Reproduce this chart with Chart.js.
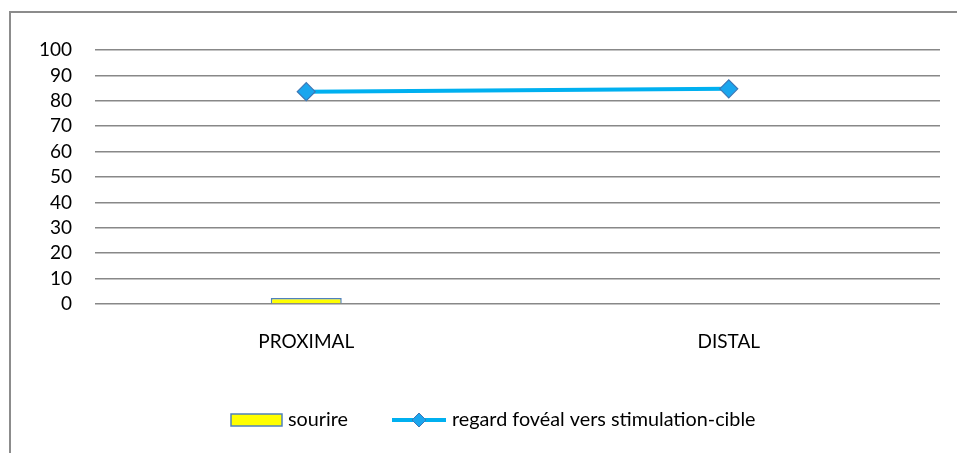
<!DOCTYPE html>
<html><head><meta charset="utf-8">
<script src="https://cdn.jsdelivr.net/npm/chart.js@4.4.1/dist/chart.umd.min.js"></script>
<style>html,body{margin:0;padding:0;background:#fff;overflow:hidden}#wrap{width:957px;height:453px;position:relative}</style>
</head><body><div id="wrap"><canvas id="c" width="957" height="453"></canvas></div>
<script>
const categories = ['PROXIMAL', 'DISTAL'];
const sourireValues = [2.4, 0];
const regardValues = [83.6, 84.7];
const yTickValues = [0, 10, 20, 30, 40, 50, 60, 70, 80, 90, 100];
const seriesNames = ['sourire', 'regard fovéal vers stimulation-cible'];

const FONT = 'Lato';
const FS = 19;
const LEG_FS = 19.8;

const frameAndLegend = {
  id: 'frameAndLegend',
  afterDraw(chart) {
    const ctx = chart.ctx;
    ctx.save();
    // outer frame (left + top)
    ctx.strokeStyle = '#8c8c8c';
    ctx.lineWidth = 2;
    ctx.beginPath();
    ctx.moveTo(10, 453); ctx.lineTo(10, 12); ctx.lineTo(957, 12);
    ctx.stroke();
    // legend
    const ly = 420;
    const ds0 = chart.data.datasets[1], ds1 = chart.data.datasets[0];
    ctx.fillStyle = ds0.backgroundColor;
    ctx.fillRect(231, 414, 51, 12);
    ctx.strokeStyle = ds0.borderColor; ctx.lineWidth = 1.5;
    ctx.strokeRect(231, 414, 51, 12);
    ctx.font = LEG_FS + 'px ' + FONT;
    ctx.fillStyle = '#000';
    ctx.textBaseline = 'middle';
    ctx.fillText(seriesNames[0], 288, ly);
    ctx.strokeStyle = ds1.borderColor; ctx.lineWidth = 4;
    ctx.beginPath(); ctx.moveTo(392, ly); ctx.lineTo(446, ly); ctx.stroke();
    const dx = 419, r = 7;
    ctx.beginPath();
    ctx.moveTo(dx - r, ly); ctx.lineTo(dx, ly - r); ctx.lineTo(dx + r, ly); ctx.lineTo(dx, ly + r); ctx.closePath();
    ctx.fillStyle = ds1.pointBackgroundColor; ctx.fill();
    ctx.strokeStyle = ds1.pointBorderColor; ctx.lineWidth = 1; ctx.stroke();
    ctx.fillStyle = '#000';
    ctx.fillText(seriesNames[1], 452, ly);
    ctx.restore();
  }
};

function build() {
  new Chart(document.getElementById('c'), {
    data: {
      labels: categories,
      datasets: [
        {
          type: 'line', label: seriesNames[1], data: regardValues,
          borderColor: '#00b0f0', borderWidth: 4, tension: 0,
          pointStyle: 'rectRot', pointRadius: 9, pointHoverRadius: 9,
          pointBackgroundColor: '#1aa6ee', pointBorderColor: '#3d77b5', pointBorderWidth: 1.2,
          order: 0
        },
        {
          type: 'bar', label: seriesNames[0], data: sourireValues,
          backgroundColor: '#ffff00', borderColor: '#4f81bd', borderWidth: 1.5,
          barPercentage: 0.168, categoryPercentage: 1,
          order: 1
        }
      ]
    },
    options: {
      responsive: false, animation: false,
      layout: { padding: { left: 10, right: 17, top: 50, bottom: 0 } },
      plugins: { legend: { display: false }, tooltip: { enabled: false } },
      scales: {
        x: {
          grid: { display: false, drawTicks: false },
          border: { display: false },
          ticks: { color: '#000', font: { family: FONT, size: FS }, padding: 26, maxRotation: 0 },
          afterFit(s) { s.height = 149; }
        },
        y: {
          min: 0, max: 100,
          afterBuildTicks(s) { s.ticks = yTickValues.map(v => ({ value: v })); },
          grid: { color: '#888888', lineWidth: 1.5, drawTicks: false },
          border: { display: false },
          ticks: { color: '#000', font: { family: FONT, size: FS }, padding: 23, autoSkip: false },
          afterFit(s) { s.width = 85; }
        }
      }
    },
    plugins: [frameAndLegend]
  });
}
(document.fonts && document.fonts.load ? document.fonts.load(FS + 'px ' + FONT) : Promise.resolve()).then(build, build);
</script>
</body></html>
